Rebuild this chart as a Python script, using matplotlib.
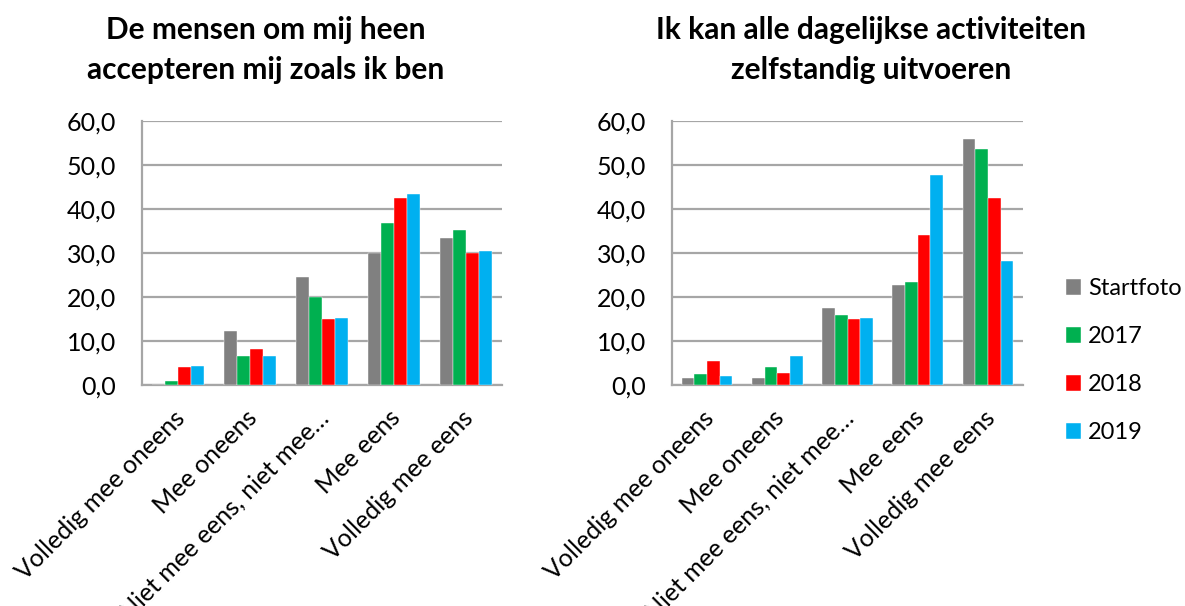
import matplotlib
matplotlib.use("Agg")
import matplotlib.pyplot as plt
import matplotlib.transforms as mtransforms
import numpy as np

categories = ["Volledig mee oneens", "Mee oneens", "Niet mee eens, niet mee…",
              "Mee eens", "Volledig mee eens"]
series_names = ["Startfoto", "2017", "2018", "2019"]
colors = ["#808080", "#00B050", "#FF0000", "#00B0F0"]

title_left = "De mensen om mij heen\naccepteren mij zoals ik ben"
title_right = "Ik kan alle dagelijkse activiteiten\nzelfstandig uitvoeren"

left_startfoto = [0.0, 12.3, 24.5, 30.0, 33.3]
left_2017 = [0.8, 6.7, 20.1, 36.9, 35.3]
left_2018 = [4.1, 8.2, 15.0, 42.4, 30.1]
left_2019 = [4.3, 6.5, 15.2, 43.5, 30.4]

right_startfoto = [1.7, 1.7, 17.5, 22.7, 56.0]
right_2017 = [2.5, 4.1, 15.9, 23.5, 53.7]
right_2018 = [5.4, 2.7, 15.0, 34.2, 42.4]
right_2019 = [2.1, 6.5, 15.2, 47.7, 28.2]

yticks = [0, 10, 20, 30, 40, 50, 60]

plt.rcParams['font.family'] = ['Lato', 'DejaVu Sans']

W, H = 1185, 606
fig = plt.figure(figsize=(W / 100, H / 100), dpi=100)

def make_axes(x0, x1, y0, y1):
    return fig.add_axes([x0 / W, 1 - y1 / H, (x1 - x0) / W, (y1 - y0) / H])

ax_l = make_axes(142, 502, 121, 385)
ax_r = make_axes(672, 1023, 121, 385)

grid_color = "#A6A6A6"
tick_fs = 18
bw = 0.18
handles = []
shift = mtransforms.ScaledTranslation(3 / 100, 0, fig.dpi_scale_trans)
for ax, data in [(ax_l, [left_startfoto, left_2017, left_2018, left_2019]),
                 (ax_r, [right_startfoto, right_2017, right_2018, right_2019])]:
    x = np.arange(len(categories))
    for i, (vals, c) in enumerate(zip(data, colors)):
        b = ax.bar(x + (i - 1.5) * bw, vals, width=bw, color=c, zorder=3,
                   edgecolor="white", linewidth=0.3)
        if ax is ax_r:
            handles.append(b)
    ax.set_xlim(-0.5, len(categories) - 0.5)
    ax.set_ylim(0, 60)
    ax.set_yticks(yticks)
    ax.set_yticklabels([f"{v:.1f}".replace(".", ",") for v in yticks], fontsize=tick_fs)
    ax.yaxis.grid(True, color=grid_color, linewidth=1.6, zorder=0)
    ax.set_xticks(x)
    ax.set_xticklabels(categories, rotation=45, ha="right", va="center",
                       rotation_mode="anchor", fontsize=tick_fs)
    ax.tick_params(axis="y", length=0, pad=18.5)
    ax.tick_params(axis="x", length=0, pad=21)
    for lab in ax.get_xticklabels():
        lab.set_transform(lab.get_transform() + shift)
    for s in ["top", "right"]:
        ax.spines[s].set_visible(False)
    for s in ["left", "bottom"]:
        ax.spines[s].set_color(grid_color)
        ax.spines[s].set_linewidth(1.6)

fig.text(266 / W, 1 - 50 / H, title_left, ha="center", va="center",
         fontsize=21.5, fontweight="bold", linespacing=1.55)
fig.text(871 / W, 1 - 50 / H, title_right, ha="center", va="center",
         fontsize=21.5, fontweight="bold", linespacing=1.55)

fig.legend(handles, series_names, loc="upper left",
           bbox_to_anchor=(1066 / W, 1 - 278 / H), frameon=False,
           fontsize=17, handlelength=0.64, handleheight=0.64,
           handletextpad=0.3, labelspacing=1.15, borderaxespad=0, borderpad=0)

fig.savefig("out.png", dpi=100)
